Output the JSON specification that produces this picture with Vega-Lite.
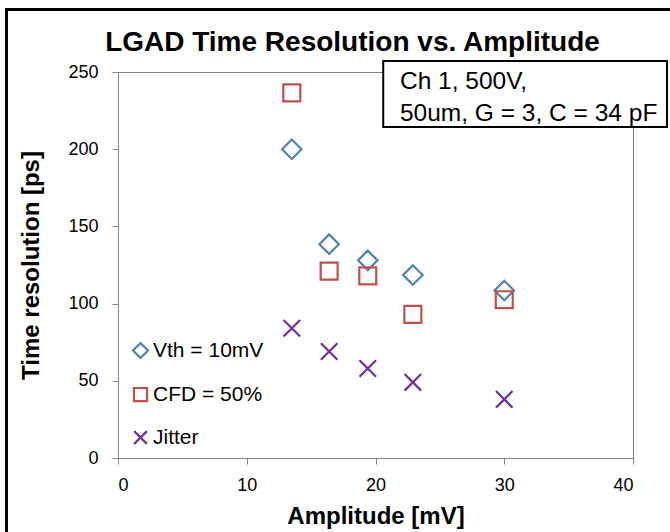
{
  "$schema": "https://vega.github.io/schema/vega-lite/v6.json",
  "width": 515,
  "height": 386,
  "autosize": "none",
  "padding": {"left": 118, "top": 72, "right": 37, "bottom": 74},
  "background": "white",
  "config": {
    "font": "Liberation Sans",
    "view": {"stroke": "#7f7f7f", "strokeWidth": 1},
    "axis": {
      "domainColor": "#868686",
      "tickColor": "#868686",
      "labelColor": "black",
      "titleColor": "black",
      "labelFontSize": 18,
      "titleFontSize": 24,
      "titleFontWeight": "bold",
      "grid": false,
      "tickSize": 6
    },
    "legend": {
      "labelFontSize": 21,
      "labelColor": "black",
      "symbolSize": 225,
      "rowPadding": 20,
      "labelOffset": 2
    }
  },
  "title": {
    "text": "LGAD Time Resolution vs. Amplitude",
    "fontSize": 28,
    "fontWeight": "bold",
    "color": "black",
    "frame": "group",
    "offset": -49,
    "dx": -23
  },
  "datasets": {
    "points": [
      {"amplitude": 13.5, "resolution": 200, "series": "Vth = 10mV"},
      {"amplitude": 16.4, "resolution": 138.5, "series": "Vth = 10mV"},
      {"amplitude": 19.4, "resolution": 128, "series": "Vth = 10mV"},
      {"amplitude": 22.9, "resolution": 118.5, "series": "Vth = 10mV"},
      {"amplitude": 30, "resolution": 108.5, "series": "Vth = 10mV"},
      {"amplitude": 13.5, "resolution": 236.5, "series": "CFD = 50%"},
      {"amplitude": 16.4, "resolution": 121, "series": "CFD = 50%"},
      {"amplitude": 19.4, "resolution": 118, "series": "CFD = 50%"},
      {"amplitude": 22.9, "resolution": 93, "series": "CFD = 50%"},
      {"amplitude": 30, "resolution": 102.5, "series": "CFD = 50%"},
      {"amplitude": 13.5, "resolution": 84, "series": "Jitter"},
      {"amplitude": 16.4, "resolution": 69, "series": "Jitter"},
      {"amplitude": 19.4, "resolution": 58, "series": "Jitter"},
      {"amplitude": 22.9, "resolution": 49, "series": "Jitter"},
      {"amplitude": 30, "resolution": 38, "series": "Jitter"}
    ],
    "frame": [
      {"x": -8.66, "x2": 50, "y": 290.5, "y2": -60}
    ],
    "box": [
      {"x": 20.6, "x2": 42.64, "y": 257.1, "y2": 214.4}
    ],
    "note": [
      {"x": 21.9, "y": 243.3, "label": "Ch 1, 500V,"},
      {"x": 21.9, "y": 223.0, "label": "50um, G = 3, C = 34 pF"}
    ]
  },
  "layer": [
    {
      "data": {"name": "frame"},
      "mark": {"type": "rect", "fill": null, "fillOpacity": 0, "stroke": "black", "strokeWidth": 3, "clip": false},
      "encoding": {
        "x": {"field": "x", "type": "quantitative"},
        "x2": {"field": "x2"},
        "y": {"field": "y", "type": "quantitative"},
        "y2": {"field": "y2"}
      }
    },
    {
      "data": {"name": "points"},
      "mark": {"type": "point", "filled": false, "opacity": 1, "size": 380},
      "encoding": {
        "x": {
          "field": "amplitude",
          "type": "quantitative",
          "scale": {"domain": [0, 40], "nice": false},
          "axis": {"values": [0, 10, 20, 30, 40], "title": "Amplitude [mV]", "labelPadding": 12, "titlePadding": 10}
        },
        "y": {
          "field": "resolution",
          "type": "quantitative",
          "scale": {"domain": [0, 250], "nice": false},
          "axis": {"values": [0, 50, 100, 150, 200, 250], "title": "Time resolution [ps]", "labelPadding": 14, "titlePadding": 24}
        },
        "color": {
          "field": "series",
          "type": "nominal",
          "scale": {"domain": ["Vth = 10mV", "CFD = 50%", "Jitter"], "range": ["#4F81BD", "#C0504D", "#7030A0"]},
          "legend": {"orient": "none", "legendX": 12, "legendY": 268, "title": null}
        },
        "shape": {
          "field": "series",
          "type": "nominal",
          "scale": {"domain": ["Vth = 10mV", "CFD = 50%", "Jitter"], "range": ["M-1,0L0,-1L1,0L0,1Z", "M-0.87,-0.87L0.87,-0.87L0.87,0.87L-0.87,0.87Z", "M-0.85,-0.85L0.85,0.85M0.85,-0.85L-0.85,0.85"]},
          "legend": {"orient": "none", "legendX": 12, "legendY": 268, "title": null}
        },
        "strokeWidth": {
          "field": "series",
          "type": "nominal",
          "scale": {"domain": ["Vth = 10mV", "CFD = 50%", "Jitter"], "range": [2.2, 2.2, 4]},
          "legend": {"orient": "none", "legendX": 12, "legendY": 268, "title": null}
        }
      }
    },
    {
      "data": {"name": "box"},
      "mark": {"type": "rect", "fill": "white", "stroke": "black", "strokeWidth": 2, "clip": false},
      "encoding": {
        "x": {"field": "x", "type": "quantitative"},
        "x2": {"field": "x2"},
        "y": {"field": "y", "type": "quantitative"},
        "y2": {"field": "y2"}
      }
    },
    {
      "data": {"name": "note"},
      "mark": {"type": "text", "align": "left", "baseline": "middle", "fontSize": 24.5, "color": "black", "clip": false},
      "encoding": {
        "x": {"field": "x", "type": "quantitative"},
        "y": {"field": "y", "type": "quantitative"},
        "text": {"field": "label"}
      }
    }
  ]
}
